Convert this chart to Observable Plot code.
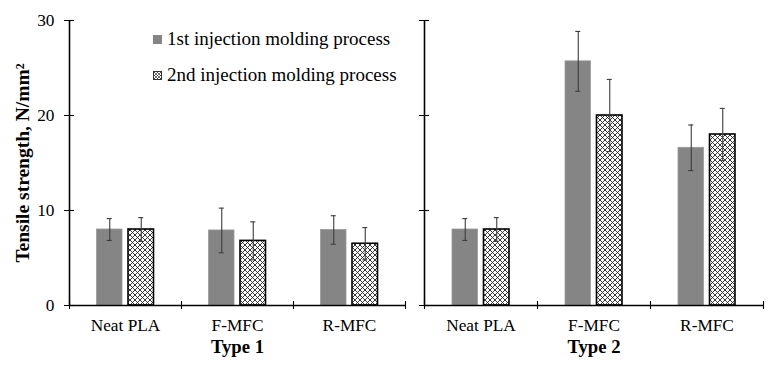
<!DOCTYPE html>
<html>
<head>
<meta charset="utf-8">
<script src="https://cdn.jsdelivr.net/npm/d3@7"></script>
<script src="https://cdn.jsdelivr.net/npm/@observablehq/plot@0.6"></script>
<style>
  html, body { margin: 0; padding: 0; background: #fff; }
  #wrap { position: relative; width: 770px; height: 365px; display: flex; font-family: "Liberation Serif", "Times New Roman", serif; }
  #wrap svg { display: block; overflow: visible; }
  [aria-label="x-axis label"] text, [aria-label="x-axis label"] { font-weight: bold; font-size: 18.7px; }
  [aria-label="y-axis label"] text, [aria-label="y-axis label"] { font-weight: bold; font-size: 19.5px; }
  #legend { position: absolute; left: 153px; top: 21px; font-family: "Liberation Serif", serif; font-size: 19px; color: #000; line-height: 36px; }
  #legend .row { display: flex; align-items: center; white-space: nowrap; }
  #legend .sw { width: 9px; height: 9px; margin-right: 5px; box-sizing: border-box; flex: none; }
</style>
</head>
<body>
<svg width="0" height="0" style="position:absolute">
  <defs>
    <pattern id="xhatch" patternUnits="userSpaceOnUse" width="5" height="5">
      <rect width="5" height="5" fill="#fff"/>
      <path d="M0,0 L5,5 M5,0 L0,5" stroke="#222" stroke-width="0.9"/>
    </pattern>
    <pattern id="xhatchSmall" patternUnits="userSpaceOnUse" width="3" height="3">
      <rect width="3" height="3" fill="#fff"/>
      <path d="M0,0 L3,3 M3,0 L0,3" stroke="#333" stroke-width="0.7"/>
    </pattern>
  </defs>
</svg>
<div id="wrap">
  <div id="left"></div>
  <div id="right"></div>
  <div id="legend">
    <div class="row"><div class="sw" style="background:#858585"></div><span>1st injection molding process</span></div>
    <div class="row"><svg class="sw" width="9" height="9"><rect x="0.5" y="0.5" width="8" height="8" fill="url(#xhatchSmall)" stroke="#333" stroke-width="1"/></svg><span>2nd injection molding process</span></div>
  </div>
</div>
<script>
// ---- data ----
const categories = ["Neat PLA", "F-MFC", "R-MFC"];
const seriesNames = ["1st injection molding process", "2nd injection molding process"];
const panelTitles = ["Type 1", "Type 2"];
const yTicks = [0, 10, 20, 30];

const type1First = [8.0, 7.9, 7.95];
const type1FirstErr = [1.15, 2.35, 1.5];
const type1Second = [8.0, 6.8, 6.5];
const type1SecondErr = [1.25, 2.0, 1.7];

const type2First = [8.0, 25.7, 16.6];
const type2FirstErr = [1.15, 3.15, 2.4];
const type2Second = [8.0, 20.0, 18.0];
const type2SecondErr = [1.25, 3.8, 2.75];

const H = 365, MT = 20, MB = 60;

function rows(vals, errs) {
  return categories.map((c, i) => ({cat: c, value: vals[i], err: errs[i]}));
}

function panel({title, first, firstErr, second, secondErr, width, ml, mr, showLabels}) {
  const A = rows(first, firstErr);
  const B = rows(second, secondErr);
  const bw = (width - ml - mr) / categories.length;
  const half = bw / 2, gap = 3, bwid = 25.5;
  const c1 = half - gap - bwid / 2;
  const c2 = half + gap + bwid / 2;
  const innerW = width - ml - mr;
  const innerH = H - MT - MB;
  const errColor = "#3c3c3c";
  const capHalf = 2.5;
  return Plot.plot({
    width, height: H,
    marginLeft: ml, marginRight: mr, marginTop: MT, marginBottom: MB,
    style: {fontFamily: '"Liberation Serif", "Times New Roman", serif', fontSize: "17.3px", color: "#000", background: "transparent"},
    x: {domain: categories, padding: 0, tickSize: 0, tickPadding: 13, label: title, labelAnchor: "center", labelOffset: 47},
    y: {domain: [0, 30], ticks: yTicks, tickSize: 5, tickPadding: 10,
        tickFormat: showLabels ? (d => d) : (() => ""),
        label: showLabels ? "Tensile strength, N/mm²" : null, labelAnchor: "center", labelOffset: 54, labelArrow: false},
    marks: [
      Plot.barY(A, {x: "cat", y: "value", fill: "#858585", stroke: "#9a9a9a", strokeWidth: 0.8,
                    insetLeft: half - gap - bwid, insetRight: half + gap}),
      Plot.barY(B, {x: "cat", y: "value", fill: "url(#xhatch)", stroke: "#000", strokeWidth: 1.6,
                    insetLeft: half + gap, insetRight: half - gap - bwid}),
      Plot.ruleX(A, {x: "cat", y1: d => d.value - d.err, y2: d => d.value + d.err, dx: c1 - half, stroke: errColor, strokeWidth: 1.1}),
      Plot.ruleX(B, {x: "cat", y1: d => d.value - d.err, y2: d => d.value + d.err, dx: c2 - half, stroke: errColor, strokeWidth: 1.1}),
      Plot.tickY(A, {x: "cat", y: d => d.value + d.err, insetLeft: c1 - capHalf, insetRight: bw - c1 - capHalf, stroke: errColor, strokeWidth: 1.1}),
      Plot.tickY(A, {x: "cat", y: d => d.value - d.err, insetLeft: c1 - capHalf, insetRight: bw - c1 - capHalf, stroke: errColor, strokeWidth: 1.1}),
      Plot.tickY(B, {x: "cat", y: d => d.value + d.err, insetLeft: c2 - capHalf, insetRight: bw - c2 - capHalf, stroke: errColor, strokeWidth: 1.1}),
      Plot.tickY(B, {x: "cat", y: d => d.value - d.err, insetLeft: c2 - capHalf, insetRight: bw - c2 - capHalf, stroke: errColor, strokeWidth: 1.1}),
      Plot.ruleY([0], {stroke: "#000", strokeWidth: 1.6}),
      Plot.ruleX(categories.slice(0, 1), {x: d => d, dx: -half, y1: 0, y2: 30, stroke: "#000", strokeWidth: 1.6}),
      Plot.tickY(yTicks, {y: d => d, insetLeft: 0, insetRight: innerW - 5, stroke: "#000", strokeWidth: 1.1}),
      Plot.tickX(categories, {x: d => d, dx: -half, insetTop: innerH - 4, insetBottom: -4, stroke: "#000", strokeWidth: 1.1}),
      Plot.tickX(categories.slice(-1), {x: d => d, dx: half, insetTop: innerH - 4, insetBottom: -4, stroke: "#000", strokeWidth: 1.1})
    ]
  });
}

document.getElementById("left").append(panel({
  title: panelTitles[0], first: type1First, firstErr: type1FirstErr,
  second: type1Second, secondErr: type1SecondErr,
  width: 415, ml: 69, mr: 10, showLabels: true
}));
document.getElementById("right").append(panel({
  title: panelTitles[1], first: type2First, firstErr: type2FirstErr,
  second: type2Second, secondErr: type2SecondErr,
  width: 355, ml: 9, mr: 7, showLabels: false
}));
</script>
</body>
</html>
